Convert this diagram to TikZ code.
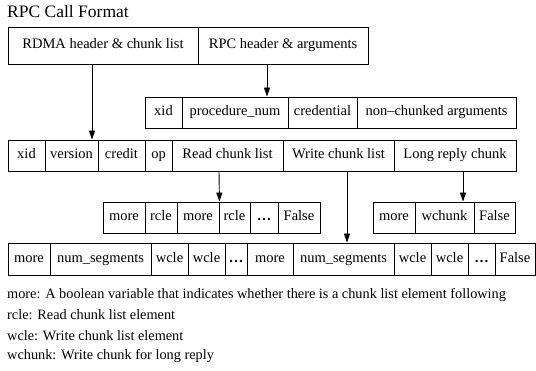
\documentclass[tikz,border=0pt]{standalone}
\usepackage{fontspec}
\setmainfont{Liberation Serif}
\usetikzlibrary{arrows.meta}
\tikzset{
  cellbox/.style={draw=black, line width=0.9pt, inner sep=0pt, text height=9.5pt, text depth=3pt, font=\fontsize{14.5}{16}\selectfont},
  arr/.style={draw=black, line width=0.9pt, -{Triangle[length=9pt,width=6pt]}},
  legend/.style={anchor=west, inner sep=0pt, font=\fontsize{14.3}{16}\selectfont}
}
\newcommand{\mycell}[6]{%
  \pgfmathsetmacro{\cw}{#3-#2}\pgfmathsetmacro{\ch}{#5-#4}%
  \pgfmathsetmacro{\cx}{(#2+#3)/2}\pgfmathsetmacro{\cy}{(#4+#5)/2}%
  \node[cellbox, minimum width=\cw pt, minimum height=\ch pt] (#1) at (\cx,\cy) {#6};}
\begin{document}
\begin{tikzpicture}[x=1pt,y=-1pt]
\useasboundingbox (0,0) rectangle (536,371);
\node[legend, font=\fontsize{17.5}{20}\selectfont] (title) at (7,12) {RPC Call Format};
% row 1
\mycell{rdma}{8}{198}{27}{64}{RDMA header \& chunk list}
\mycell{rpch}{198}{368}{27}{64}{RPC header \& arguments}
% row 2
\mycell{axid}{145}{182}{97}{128}{xid}
\mycell{proc}{182}{288}{97}{128}{procedure\_num}
\mycell{cred}{288}{357}{97}{128}{credential}
\mycell{nonc}{357}{516}{97}{128}{non\textendash chunked arguments}
% row 3
\mycell{bxid}{8}{45}{140}{171}{xid}
\mycell{ver}{45}{98}{140}{171}{version}
\mycell{credit}{98}{145}{140}{171}{credit}
\mycell{op}{145}{172}{140}{171}{op}
\mycell{rcl}{172}{283}{140}{171}{Read chunk list}
\mycell{wcl}{283}{394}{140}{171}{Write chunk list}
\mycell{lrc}{394}{516}{140}{171}{Long reply chunk}
% row 4 left
\mycell{m1}{103}{145}{202}{233}{more}
\mycell{r1}{145}{177}{202}{233}{rcle}
\mycell{m2}{177}{219}{202}{233}{more}
\mycell{r2}{219}{250}{202}{233}{rcle}
\mycell{d1}{250}{278}{202}{233}{\textbf{\dots}}
\mycell{f1}{278}{320}{202}{233}{False}
% row 4 right
\mycell{m3}{373}{415}{202}{233}{more}
\mycell{wch}{415}{474}{202}{233}{wchunk}
\mycell{f2}{474}{515}{202}{233}{False}
% row 5
\mycell{m4}{8}{50}{243}{275}{more}
\mycell{n1}{50}{151}{243}{275}{num\_segments}
\mycell{w1}{151}{188}{243}{275}{wcle}
\mycell{w2}{188}{225}{243}{275}{wcle}
\mycell{d2}{225}{247}{243}{275}{\textbf{\dots}}
\mycell{m5}{247}{293}{243}{275}{more}
\mycell{n2}{293}{394}{243}{275}{num\_segments}
\mycell{w3}{394}{431}{243}{275}{wcle}
\mycell{w4}{431}{468}{243}{275}{wcle}
\mycell{d3}{468}{495}{243}{275}{\textbf{\dots}}
\mycell{f3}{495}{535}{243}{275}{False}
% arrows
\draw[arr] (rdma.south -| 92,0) -- (ver.north -| 92,0);
\draw[arr] (rpch.south -| 267,0) -- (proc.north -| 267,0);
\draw[arr] (rcl.south -| 219,0) -- (m2.north east);
\draw[arr] (wcl.south -| 347,0) -- (n2.north -| 347,0);
\draw[arr] (lrc.south -| 463,0) -- (wch.north -| 463,0);
% legend
\node[legend] (l1) at (7,295) {more: A boolean variable that indicates whether there is a chunk list element following};
\node[legend] (l2) at (7,315) {rcle: Read chunk list element};
\node[legend] (l3) at (7,336) {wcle: Write chunk list element};
\node[legend] (l4) at (7,356) {wchunk: Write chunk for long reply};
\end{tikzpicture}
\end{document}
